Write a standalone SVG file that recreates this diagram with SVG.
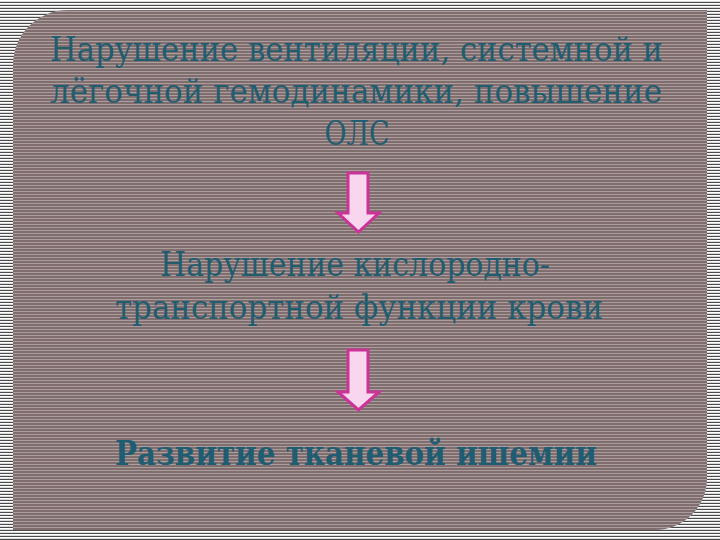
<svg xmlns="http://www.w3.org/2000/svg" width="720" height="540" viewBox="0 0 720 540">
<defs>
<pattern id="outer" width="4" height="3" patternUnits="userSpaceOnUse">
<rect width="4" height="3" fill="#ffffff"/>
<rect y="1.8" width="4" height="1.2" fill="#4a4a4a"/>
</pattern>
<pattern id="inner" width="4" height="3" patternUnits="userSpaceOnUse">
<rect width="4" height="3" fill="#806e6f"/>
<rect y="2" width="4" height="1" fill="#ab9c9d"/>
</pattern>
<style>
.t{font-family:"DejaVu Serif","Liberation Serif",serif;font-size:33px;fill:#1f5d70;text-anchor:middle}
.b{font-weight:bold;fill:#1e5d72}
.arrow{fill:#f7d6ee;stroke:#cc3399;stroke-width:3;stroke-linejoin:miter}
</style>
</defs>
<rect width="720" height="540" fill="url(#outer)"/>
<path d="M68,10 H707 V478 A52,52 0 0 1 655,530 H13 V65 A55,55 0 0 1 68,10 Z" fill="url(#inner)"/>
<g id="node1">
<text class="t" x="356.5" y="61" textLength="613" lengthAdjust="spacingAndGlyphs">Нарушение вентиляции, системной и</text>
<text class="t" x="356" y="103" textLength="612" lengthAdjust="spacingAndGlyphs">лёгочной гемодинамики, повышение</text>
<text class="t" x="357" y="145" textLength="65" lengthAdjust="spacingAndGlyphs">ОЛС</text>
</g>
<g id="node2">
<text class="t" x="355" y="276" textLength="390" lengthAdjust="spacingAndGlyphs">Нарушение кислородно-</text>
<text class="t" x="359" y="319" textLength="488" lengthAdjust="spacingAndGlyphs">транспортной функции крови</text>
</g>
<g id="node3">
<text class="t b" x="356" y="465" textLength="482" lengthAdjust="spacingAndGlyphs">Развитие тканевой ишемии</text>
</g>
<g id="connectors">
<path class="arrow" d="M348,173 H368 V213 H379 L358.5,232 L338,213 H348 Z"/>
<path class="arrow" d="M348,350 H368 V392 H379 L358.5,410 L338,392 H348 Z"/>
</g>
</svg>
